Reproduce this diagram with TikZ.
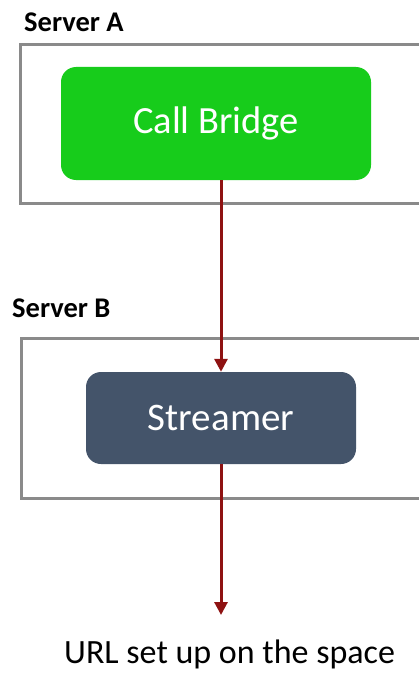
\documentclass[tikz,border=0pt]{standalone}
\usepackage{fontspec}
\setmainfont{Carlito}
\usetikzlibrary{arrows.meta}
\definecolor{boxgray}{HTML}{8A8A8A}
\definecolor{cbgreen}{HTML}{17CC1B}
\definecolor{slate}{HTML}{44546A}
\definecolor{arrowred}{HTML}{8E1212}
\tikzset{
  server/.style={draw=boxgray, line width=3pt, inner sep=0pt, fill=white},
  comp/.style={rounded corners=15pt, inner sep=0pt, text=white},
  title/.style={font=\bfseries\fontsize{28.5}{32}\selectfont, inner sep=0pt, anchor=base west},
  flow/.style={draw=arrowred, line width=3pt, -{Triangle[width=13pt,length=13pt]}}
}
\begin{document}
\begin{tikzpicture}[x=1pt,y=-1pt]
\useasboundingbox (0,0) rectangle (419,674);
\clip (0,0) rectangle (419,674);
\node[title] (lblA) at (24,32) {Server A};
\node[server, minimum width=410pt, minimum height=158pt] (srvA) at (225,124) {};
\node[comp, fill=cbgreen, minimum width=310pt, minimum height=113pt, font=\fontsize{38.5}{42}\selectfont] (cb) at (216,123.5) {Call Bridge};
\node[title] (lblB) at (12,317) {Server B};
\node[server, minimum width=409pt, minimum height=160pt] (srvB) at (225.5,418) {};
\node[comp, fill=slate, minimum width=270pt, minimum height=92pt, font=\fontsize{39}{43}\selectfont] (st) at (221,418) {Streamer};
\node[inner sep=0pt, anchor=base west, font=\fontsize{34}{39}\selectfont] (url) at (64,663) {URL set up on the space};
\coordinate (end) at (221,615);
\draw[flow] (cb.south -| 221,0) -- (st.north -| 221,0);
\draw[flow] (st.south -| 221,0) -- (end);
\end{tikzpicture}
\end{document}
